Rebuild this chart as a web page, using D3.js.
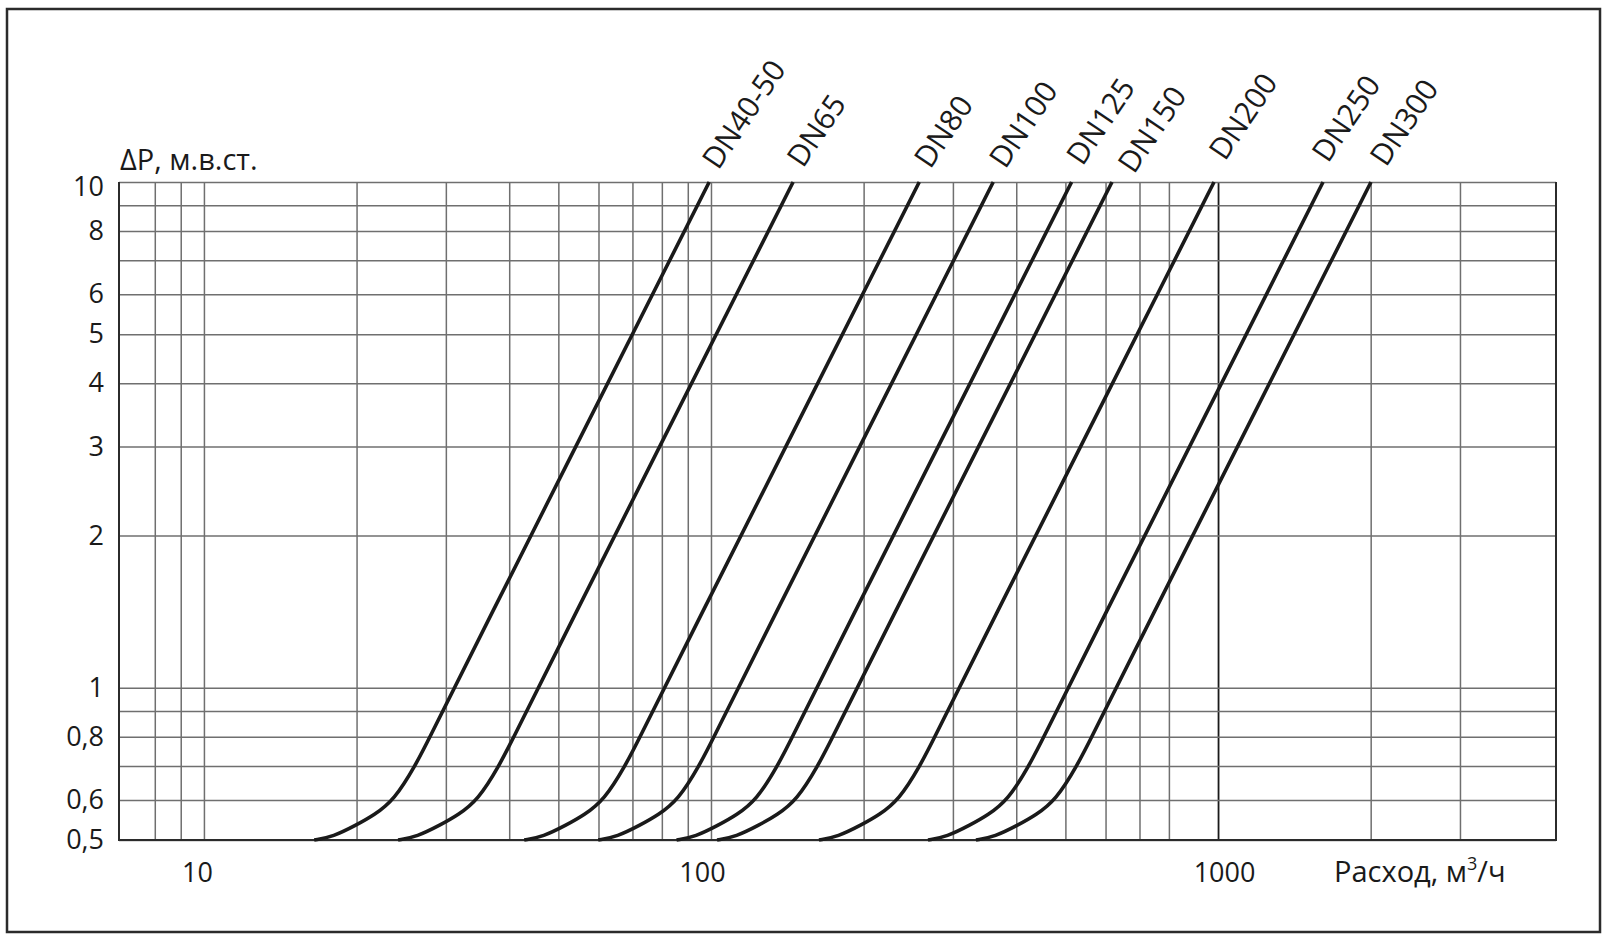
<!DOCTYPE html>
<html><head><meta charset="utf-8">
<script src="https://cdn.jsdelivr.net/npm/d3@7"></script>
<style>
html,body{margin:0;padding:0;background:#fff;}
svg{display:block;}
</style></head><body>
<svg id="chart" width="1612" height="941"></svg>
<script>
// ---- data ----
const seriesNames = ["DN40-50","DN65","DN80","DN100","DN125","DN150","DN200","DN250","DN300"];
// pressure drop levels (m w.c.) at which flow was read for every curve
const pressureLevels = [0.5, 0.5075, 0.535, 0.56, 0.6, 0.7, 0.8, 1, 10];
const flowDN40_50 = [16.50, 17.98, 19.95, 21.66, 23.72, 26.09, 27.92, 31.15, 99.2];
const flowDN65    = [24.15, 26.31, 29.20, 31.70, 34.72, 38.19, 40.87, 45.59, 145.2];
const flowDN80    = [42.82, 46.66, 51.78, 56.21, 61.57, 67.72, 72.49, 80.86, 257.5];
const flowDN100   = [59.92, 65.29, 72.46, 78.65, 86.15, 94.76, 101.4, 113.1, 360.3];
const flowDN125   = [85.53, 93.19, 103.4, 112.3, 123.0, 135.3, 144.8, 161.5, 514.3];
const flowDN150   = [102.8, 112.0, 124.3, 134.9, 147.7, 162.5, 173.9, 194.0, 617.9];
const flowDN200   = [163.3, 177.9, 197.5, 214.4, 234.8, 258.3, 276.4, 308.3, 982];
const flowDN250   = [267.9, 291.9, 324.0, 351.7, 385.2, 423.7, 453.5, 505.9, 1611];
const flowDN300   = [333.1, 362.9, 402.8, 437.3, 478.9, 526.8, 563.8, 628.9, 2003];
const seriesFlows = [flowDN40_50, flowDN65, flowDN80, flowDN100, flowDN125, flowDN150, flowDN200, flowDN250, flowDN300];

const xGridValues = [8, 9, 10, 20, 30, 40, 50, 60, 70, 80, 90, 100, 200, 300, 400, 500, 600, 700, 800, 1000, 2000, 3000];
const xTickValues = [10, 100, 1000];
const yGridValues = [0.5, 0.6, 0.7, 0.8, 0.9, 1, 2, 3, 4, 5, 6, 7, 8, 9, 10];
const yTickValues = [0.5, 0.6, 0.8, 1, 2, 3, 4, 5, 6, 8, 10];
const yTitle = "ΔP, м.в.ст.";
const xTitle = ["Расход, м", "3", "/ч"];

// ---- layout ----
const W = 1612, H = 941;
const L = 119, R = 1556, T = 182, B = 840;
const FONT = '"Open Sans", "Noto Sans", sans-serif';
const INK = "#1a1a1a", GRID = "#6f6f6f";
const labelNudge = [[9,-11],[10,-13],[11,-12],[12,-12],[11,-15],[22,-7],[11,-20],[5,-18],[15,-14]];
const xLabelShift = {10: -7, 100: -9, 1000: 6};

const svg = d3.select("#chart");
svg.append("rect").attr("width", W).attr("height", H).attr("fill", "#fff");

const x = d3.scaleLog().domain([6.8, 4640]).range([L, R]);
const y = d3.scaleLog().domain([0.5, 10]).range([B, T]);

// vertical grid
const gx = svg.append("g").attr("transform", `translate(0,${B})`)
  .call(d3.axisBottom(x).tickValues(xGridValues).tickSize(-(B - T)).tickFormat(""));
gx.select(".domain").remove();
gx.selectAll(".tick line").attr("stroke", d => d === 1000 ? INK : GRID).attr("stroke-width", d => d === 1000 ? 1.8 : 1.5);

// horizontal grid
const gy = svg.append("g").attr("transform", `translate(${L},0)`)
  .call(d3.axisLeft(y).tickValues(yGridValues).tickSize(-(R - L)).tickFormat(""));
gy.select(".domain").remove();
gy.selectAll(".tick line").attr("stroke", GRID).attr("stroke-width", 1.5);

// frame of plot
svg.append("path").attr("d", `M${L},${T}V${B}H${R}V${T}`)
  .attr("fill", "none").attr("stroke", "#2b2b2b").attr("stroke-width", 2);

// y tick labels
const ly = svg.append("g").attr("transform", `translate(${L},0)`)
  .call(d3.axisLeft(y).tickValues(yTickValues).tickSize(0).tickPadding(15)
    .tickFormat(d => String(d).replace(".", ",")));
ly.select(".domain").remove();
ly.attr("font-size", 27).attr("font-family", FONT);
ly.selectAll("text").attr("fill", INK).attr("dy", d => d === 10 ? "0.5em" : "0.32em");

// x tick labels
const lx = svg.append("g").attr("transform", `translate(0,${B})`)
  .call(d3.axisBottom(x).tickValues(xTickValues).tickSize(0).tickPadding(23)
    .tickFormat(d3.format("d")));
lx.select(".domain").remove();
lx.attr("font-size", 27).attr("font-family", FONT);
lx.selectAll("text").attr("fill", INK).attr("dx", d => xLabelShift[d] || 0);

// axis titles
svg.append("text").attr("x", 120).attr("y", 170).attr("font-family", FONT).attr("font-size", 29)
  .attr("fill", INK).text(yTitle);
const xt = svg.append("text").attr("x", 1334).attr("y", 882).attr("font-family", FONT)
  .attr("font-size", 29).attr("fill", INK);
xt.append("tspan").text(xTitle[0]);
xt.append("tspan").attr("font-size", 18).attr("dy", -12).text(xTitle[1]);
xt.append("tspan").attr("dy", 12).text(xTitle[2]);

// curves
const line = d3.line().x(d => x(d[0])).y(d => y(d[1])).curve(d3.curveBasis);
seriesNames.forEach((name, i) => {
  const pts = seriesFlows[i].map((q, k) => [q, pressureLevels[k]]);
  svg.append("path").datum(pts).attr("d", line)
    .attr("fill", "none").attr("stroke", INK).attr("stroke-width", 3.6);
  const top = pts[pts.length - 1];
  const lx0 = x(top[0]) + labelNudge[i][0], ly0 = y(top[1]) + labelNudge[i][1];
  svg.append("text").attr("transform", `translate(${lx0},${ly0}) rotate(-56)`)
    .attr("font-family", FONT).attr("font-size", 30).attr("fill", INK).text(name);
});

// outer frame
svg.append("rect").attr("x", 7).attr("y", 9).attr("width", 1593).attr("height", 923)
  .attr("fill", "none").attr("stroke", "#2b2b2b").attr("stroke-width", 2.5);
</script>
</body></html>
